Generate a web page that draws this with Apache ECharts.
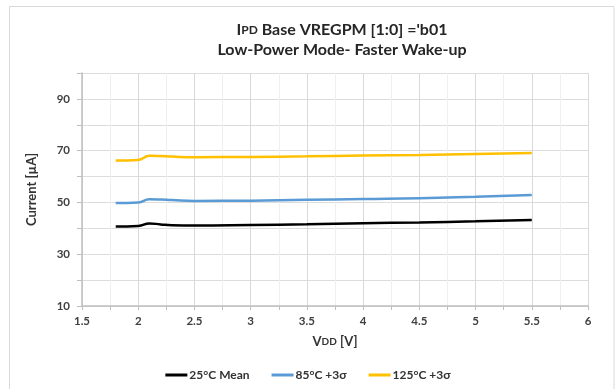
<!DOCTYPE html>
<html>
<head>
<meta charset="utf-8">
<script src="https://cdn.jsdelivr.net/npm/echarts@6/dist/echarts.min.js"></script>
<style>
html,body{margin:0;padding:0;background:#fff;}
#c{width:616px;height:389px;}
</style>
</head>
<body>
<div id="c"></div>
<script>
const vdd = [1.8, 2.0, 2.1, 2.2, 2.3, 2.5, 3.0, 3.5, 4.0, 4.5, 5.0, 5.5];
const mean25 = [40.7, 40.9, 41.9, 41.5, 41.2, 41.1, 41.3, 41.6, 42.0, 42.3, 42.7, 43.2];
const sigma85 = [49.8, 50.0, 51.2, 51.1, 50.9, 50.6, 50.7, 51.0, 51.3, 51.6, 52.2, 52.9];
const sigma125 = [66.2, 66.4, 68.0, 67.9, 67.7, 67.5, 67.6, 67.8, 68.1, 68.3, 68.7, 69.1];
const seriesNames = ['25°C Mean', '85°C +3σ', '125°C +3σ'];
const seriesColors = ['#000000', '#5b9bd5', '#ffc000'];
const yTicks = [10, 30, 50, 70, 90];
const xTicks = [1.5, 2, 2.5, 3, 3.5, 4, 4.5, 5, 5.5, 6];

const FONT = 'Lato, "Open Sans", sans-serif';
const pair = (ys) => vdd.map((x, i) => [x, ys[i]]);
const chart = echarts.init(document.getElementById('c'), null, {renderer: 'canvas'});
chart.setOption({
  animation: false,
  backgroundColor: '#ffffff',
  graphic: [{
    type: 'rect', shape: {x: 9.5, y: 6.5, width: 604.5, height: 400},
    style: {fill: 'none', stroke: '#d9d9d9', lineWidth: 1}, silent: true
  }],
  title: [{
    text: '{b|I}{s|PD}{b| Base VREGPM [1:0] =\'b01}',
    left: 337, top: 17, textAlign: 'center',
    textStyle: {rich: {
      b: {fontFamily: FONT, fontWeight: 'bold', fontSize: 16, color: '#262626'},
      s: {fontFamily: FONT, fontWeight: 'bold', fontSize: 12, color: '#262626'}
    }}
  }, {
    text: 'Low-Power Mode- Faster Wake-up',
    left: 337, top: 37, textAlign: 'center',
    textStyle: {fontFamily: FONT, fontWeight: 'bold', fontSize: 16, color: '#262626'}
  }],
  legend: {
    data: seriesNames,
    left: 'center', top: 364,
    icon: 'rect', itemWidth: 22, itemHeight: 3, itemGap: 22,
    textStyle: {fontFamily: FONT, fontWeight: 'bold', fontSize: 12, color: '#333333', padding: [0, 0, 0, -3]}
  },
  grid: {left: 82, right: 28, top: 73, bottom: 83, containLabel: false},
  xAxis: {
    type: 'value', min: 1.5, max: 6, interval: 0.25,
    name: '{a|V}{b|DD}{a| [V]}',
    nameLocation: 'middle', nameGap: 29,
    nameTextStyle: {rich: {
      a: {fontFamily: FONT, fontWeight: 'bold', fontSize: 13, color: '#333333'},
      b: {fontFamily: FONT, fontWeight: 'bold', fontSize: 10, color: '#333333'}
    }},
    axisLine: {show: true, lineStyle: {color: '#bfbfbf', width: 1.5}},
    axisTick: {show: true, length: 4, lineStyle: {color: '#bfbfbf'}},
    axisLabel: {
      fontFamily: FONT, fontWeight: 'bold', fontSize: 11.5, color: '#404040', margin: 9,
      formatter: (v) => xTicks.some(t => Math.abs(t - v) < 1e-6) ? String(v) : ''
    },
    splitLine: {show: true, lineStyle: {color: ['#d9d9d9', '#efefef'], width: 1}}
  },
  yAxis: {
    type: 'value', min: 10, max: 100, interval: 10,
    name: 'Current [µA]',
    nameLocation: 'middle', nameGap: 44,
    nameTextStyle: {fontFamily: FONT, fontWeight: 'bold', fontSize: 13, color: '#333333'},
    axisLine: {show: true, lineStyle: {color: '#bfbfbf', width: 1.5}},
    axisTick: {show: true, length: 5, lineStyle: {color: '#bfbfbf'}},
    axisLabel: {
      fontFamily: FONT, fontWeight: 'bold', fontSize: 11.5, color: '#404040', margin: 12,
      formatter: (v) => yTicks.includes(v) ? String(v) : ''
    },
    splitLine: {show: true, lineStyle: {color: '#dcdcdc', width: 1}}
  },
  series: [mean25, sigma85, sigma125].map((d, i) => ({
    name: seriesNames[i], type: 'line', data: pair(d),
    smooth: 0.5, showSymbol: false, symbol: 'none',
    lineStyle: {color: seriesColors[i], width: 2.5},
    itemStyle: {color: seriesColors[i]}
  }))
});
</script>
</body>
</html>
